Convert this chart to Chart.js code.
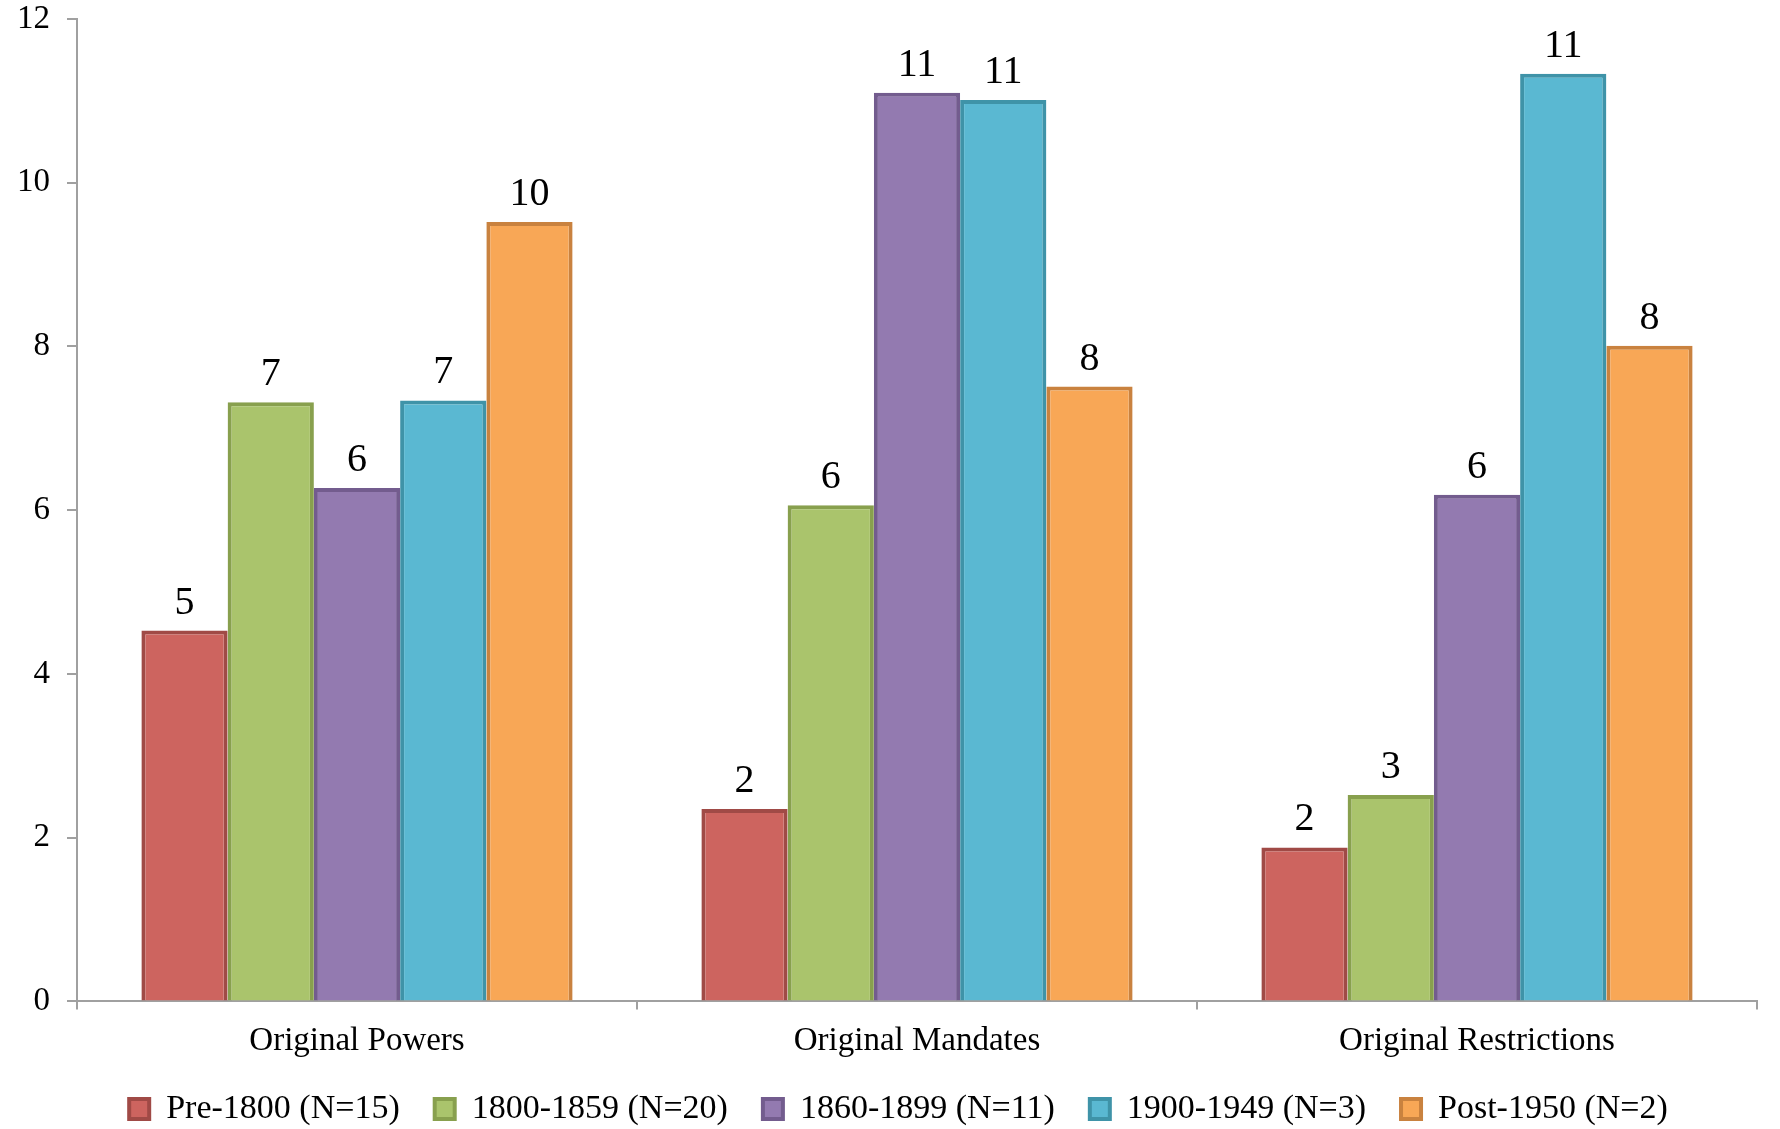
<!DOCTYPE html>
<html>
<head>
<meta charset="utf-8">
<script src="https://cdn.jsdelivr.net/npm/chart.js@4.4.0/dist/chart.umd.min.js"></script>
<style>
  html, body { margin: 0; padding: 0; background: #fff; }
  #wrap { width: 1780px; height: 1129px; }
</style>
</head>
<body>
<div id="wrap"><canvas id="chart" width="1780" height="1129"></canvas></div>
<script>
const categories = ['Original Powers', 'Original Mandates', 'Original Restrictions'];
const seriesNames = ['Pre-1800 (N=15)', '1800-1859 (N=20)', '1860-1899 (N=11)', '1900-1949 (N=3)', 'Post-1950 (N=2)'];
const pre1800 = [4.53, 2.35, 1.88];
const s1800 = [7.32, 6.06, 2.52];
const s1860 = [6.27, 11.1, 6.19];
const s1900 = [7.34, 11.01, 11.33];
const post1950 = [9.52, 7.51, 8.01];
const fills = ['#CD645F', '#AAC46C', '#937AB0', '#5AB8D2', '#F8A756'];
const borders = ['#A04A46', '#88A04E', '#735C8E', '#3F93A8', '#C9823F'];
const yTicks = [0, 2, 4, 6, 8, 10, 12];

const FONT = '"Liberation Serif", serif';
const seriesValues = [pre1800, s1800, s1860, s1900, post1950];

// value labels above each bar
const barLabels = {
    id: 'barLabels',
    afterDatasetsDraw(chart) {
        const ctx = chart.ctx;
        ctx.save();
        ctx.font = '40px ' + FONT;
        ctx.fillStyle = '#000';
        ctx.textAlign = 'center';
        ctx.textBaseline = 'alphabetic';
        chart.data.datasets.forEach((ds, i) => {
            const meta = chart.getDatasetMeta(i);
            meta.data.forEach((bar, j) => {
                ctx.fillText(Math.round(ds.data[j]), bar.x, bar.y - 17);
            });
        });
        ctx.restore();
    }
};

// nudge the legend a bit right, like the original
const legendShift = {
    id: 'legendShift',
    afterLayout(chart) {
        if (chart.legend) {
            chart.legend.left += 20;
            chart.legend.right += 20;
        }
    }
};

new Chart(document.getElementById('chart'), {
    type: 'bar',
    data: {
        labels: categories,
        datasets: seriesNames.map((name, i) => ({
            label: name,
            data: seriesValues[i],
            backgroundColor: fills[i],
            borderColor: borders[i],
            borderWidth: 4,
            categoryPercentage: 0.77,
            barPercentage: 1.0
        }))
    },
    options: {
        responsive: false,
        animation: false,
        layout: { padding: { left: 0, right: 23, top: 19, bottom: -7 } },
        plugins: {
            legend: {
                position: 'bottom',
                labels: {
                    font: { family: FONT, size: 34 },
                    color: '#000',
                    boxWidth: 20,
                    boxHeight: 20,
                    padding: 35
                }
            },
            tooltip: { enabled: false }
        },
        scales: {
            x: {
                afterFit(scale) { scale.height -= 16; },
                grid: { drawOnChartArea: false, drawTicks: true, tickLength: 8, color: '#A0A0A0', lineWidth: 2 },
                border: { color: '#A0A0A0', width: 2 },
                ticks: { font: { family: FONT, size: 33 }, color: '#000', padding: 12 }
            },
            y: {
                min: 0,
                max: 12,
                afterBuildTicks(scale) {
                    scale.ticks = yTicks.map(v => ({ value: v }));
                },
                afterFit(scale) {
                    scale.width = 77;
                    scale.paddingTop = 0;
                    scale.paddingBottom = 0;
                },
                grid: { drawOnChartArea: false, drawTicks: true, tickLength: 10, color: '#A0A0A0', lineWidth: 2 },
                border: { color: '#A0A0A0', width: 2 },
                ticks: { font: { family: FONT, size: 33 }, color: '#000', padding: 17 }
            }
        }
    },
    plugins: [barLabels, legendShift]
});
</script>
</body>
</html>
